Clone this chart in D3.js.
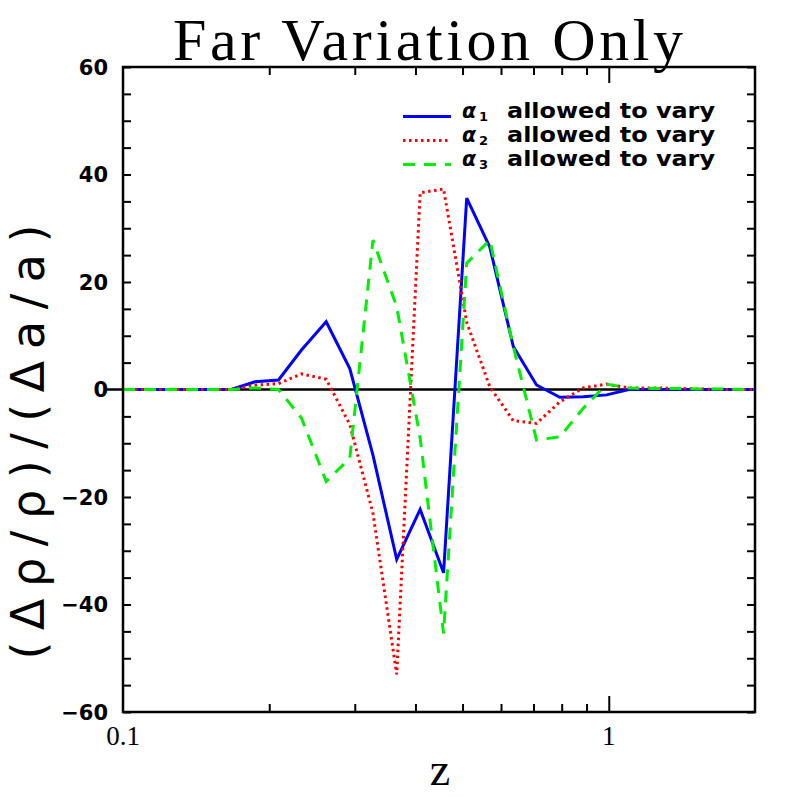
<!DOCTYPE html>
<html>
<head>
<meta charset="utf-8">
<script src="https://cdn.jsdelivr.net/npm/d3@7"></script>
<style>
  body { margin: 0; background: #fff; }
</style>
</head>
<body>
<svg></svg>
<script>
// values
var zValues = [0.1, 0.15, 0.167, 0.187, 0.209, 0.233, 0.262, 0.293, 0.327, 0.366, 0.409, 0.457,
  0.510, 0.569, 0.636, 0.710, 0.793, 0.886, 0.99, 1.10, 1.23, 1.37, 1.53, 1.71, 1.91, 2.0];
var alpha1 = [0, 0, 0, 1.45, 1.77, 7.35, 12.6, 3.9, -12.2, -31.6, -22.3, -34.1,
  35.6, 26.5, 8.0, 0.84, -1.46, -1.35, -1.0, 0, 0, 0, 0, 0, 0, 0];
var alpha2 = [0, 0, 0, 0.8, 1.1, 2.9, 1.9, -6.5, -23, -53, 36.6, 37.3,
  12.5, 0.5, -5.8, -6.3, -2.3, 0.3, 1.0, 0.3, 0.3, 0.2, 0.1, 0, 0, 0];
var alpha3 = [0, 0, 0, 0.3, 0, -5.3, -17.1, -12.8, 27.8, 15.4, -9, -45.4,
  23.5, 27.8, 8.0, -9.4, -8.8, -3.5, 1.0, 0.3, 0.2, 0.2, 0.1, 0.1, 0, 0];

var seriesNames = ["1", "2", "3"];
var yTickLabels = [-60, -40, -20, 0, 20, 40, 60];
var xMinorTicks = [0.2, 0.3, 0.4, 0.5, 0.6, 0.7, 0.8, 0.9];
var xMajorTicks = [0.1, 1];

var width = 797, height = 797;
var margin = {top: 67, right: 42, bottom: 85, left: 123};

var svg = d3.select("svg")
  .attr("width", width)
  .attr("height", height);

var x = d3.scaleLog()
  .domain([0.1, 2])
  .range([margin.left, width - margin.right]);

var y = d3.scaleLinear()
  .domain([-60, 60])
  .range([height - margin.bottom, margin.top]);

var series = [
  {id: seriesNames[0], values: alpha1, color: "#0000ff", dash: null},
  {id: seriesNames[1], values: alpha2, color: "#ff0000", dash: "2.5,3.5"},
  {id: seriesNames[2], values: alpha3, color: "#00ee00", dash: "12,9"}
];

// ticks, all pointing in
function tickAxis(axis, tx, ty) {
  var g = svg.append("g")
    .attr("transform", "translate(" + tx + "," + ty + ")")
    .call(axis);
  g.select(".domain").remove();
  g.selectAll(".tick line").attr("stroke", "#000").attr("stroke-width", 2);
  return g;
}

var yTicks = d3.range(-60, 61, 5);
tickAxis(d3.axisLeft(y).tickValues(yTicks).tickSize(-8).tickFormat(""), margin.left, 0);
tickAxis(d3.axisRight(y).tickValues(yTicks).tickSize(-8).tickFormat(""), width - margin.right, 0);
tickAxis(d3.axisBottom(x).tickValues(xMinorTicks).tickSize(-8).tickFormat(""), 0, height - margin.bottom);
tickAxis(d3.axisBottom(x).tickValues([1]).tickSize(-16).tickFormat(""), 0, height - margin.bottom);
tickAxis(d3.axisTop(x).tickValues(xMinorTicks).tickSize(-8).tickFormat(""), 0, margin.top);
tickAxis(d3.axisTop(x).tickValues([1]).tickSize(-16).tickFormat(""), 0, margin.top);

// zero line
svg.append("line")
  .attr("x1", margin.left - 16)
  .attr("x2", width - margin.right)
  .attr("y1", y(0))
  .attr("y2", y(0))
  .attr("stroke", "#000")
  .attr("stroke-width", 2.5);

// data
var line = d3.line()
  .x(function(d) { return x(d[0]); })
  .y(function(d) { return y(d[1]); });

svg.append("g")
  .selectAll("path")
  .data(series)
  .enter().append("path")
  .attr("d", function(s) {
    return line(zValues.map(function(z, i) { return [z, s.values[i]]; }));
  })
  .attr("fill", "none")
  .attr("stroke", function(s) { return s.color; })
  .attr("stroke-width", 3)
  .attr("stroke-dasharray", function(s) { return s.dash; });

// frame
svg.append("rect")
  .attr("x", margin.left)
  .attr("y", margin.top)
  .attr("width", width - margin.left - margin.right)
  .attr("height", height - margin.top - margin.bottom)
  .attr("fill", "none")
  .attr("stroke", "#000")
  .attr("stroke-width", 2.5);

// tick labels
svg.append("g")
  .selectAll("text")
  .data(yTickLabels)
  .enter().append("text")
  .attr("x", margin.left - 15)
  .attr("y", function(d) { return y(d); })
  .attr("dy", "0.36em")
  .attr("text-anchor", "end")
  .style("font-family", "DejaVu Sans")
  .style("font-weight", "bold")
  .style("font-size", "21px")
  .text(d3.format("d"));

svg.append("g")
  .selectAll("text")
  .data(xMajorTicks)
  .enter().append("text")
  .attr("x", function(d) { return x(d); })
  .attr("y", height - margin.bottom + 33)
  .attr("text-anchor", "middle")
  .style("font-family", "Liberation Serif")
  .style("font-size", "27px")
  .text(function(d) { return d; });

// titles
svg.append("text")
  .attr("x", 428)
  .attr("y", 60)
  .attr("text-anchor", "middle")
  .attr("textLength", 510)
  .attr("lengthAdjust", "spacing")
  .style("font-family", "Liberation Serif")
  .style("font-size", "60px")
  .text("Far Variation Only");

svg.append("text")
  .attr("x", 440)
  .attr("y", 785)
  .attr("text-anchor", "middle")
  .style("font-family", "Liberation Serif")
  .style("font-size", "46px")
  .text("z");

svg.append("text")
  .attr("transform", "translate(44,442) rotate(-90)")
  .attr("text-anchor", "middle")
  .attr("textLength", 435)
  .attr("lengthAdjust", "spacing")
  .style("font-family", "DejaVu Sans")
  .style("font-size", "46px")
  .text("(\u0394\u03c1/\u03c1)/(\u0394a/a)");

// legend
var legend = svg.append("g")
  .selectAll("g")
  .data(series)
  .enter().append("g")
  .attr("transform", function(d, i) { return "translate(0," + (118 + i * 24) + ")"; });

legend.append("line")
  .attr("x1", 403)
  .attr("x2", 451)
  .attr("y1", -1.5)
  .attr("y2", -1.5)
  .attr("stroke", function(d) { return d.color; })
  .attr("stroke-width", 3)
  .attr("stroke-dasharray", function(d) { return d.dash; });

var sym = legend.append("text")
  .attr("x", 462)
  .style("font-family", "DejaVu Sans")
  .style("font-weight", "bold");

sym.append("tspan")
  .style("font-style", "italic")
  .style("font-size", "20.5px")
  .text("\u03b1");

sym.append("tspan")
  .attr("dx", 3)
  .attr("dy", 3)
  .style("font-size", "13px")
  .text(function(d) { return d.id; });

legend.append("text")
  .attr("x", 507)
  .attr("textLength", 208)
  .attr("lengthAdjust", "spacingAndGlyphs")
  .style("font-family", "DejaVu Sans")
  .style("font-weight", "bold")
  .style("font-size", "20.5px")
  .text("allowed to vary");
</script>
</body>
</html>
